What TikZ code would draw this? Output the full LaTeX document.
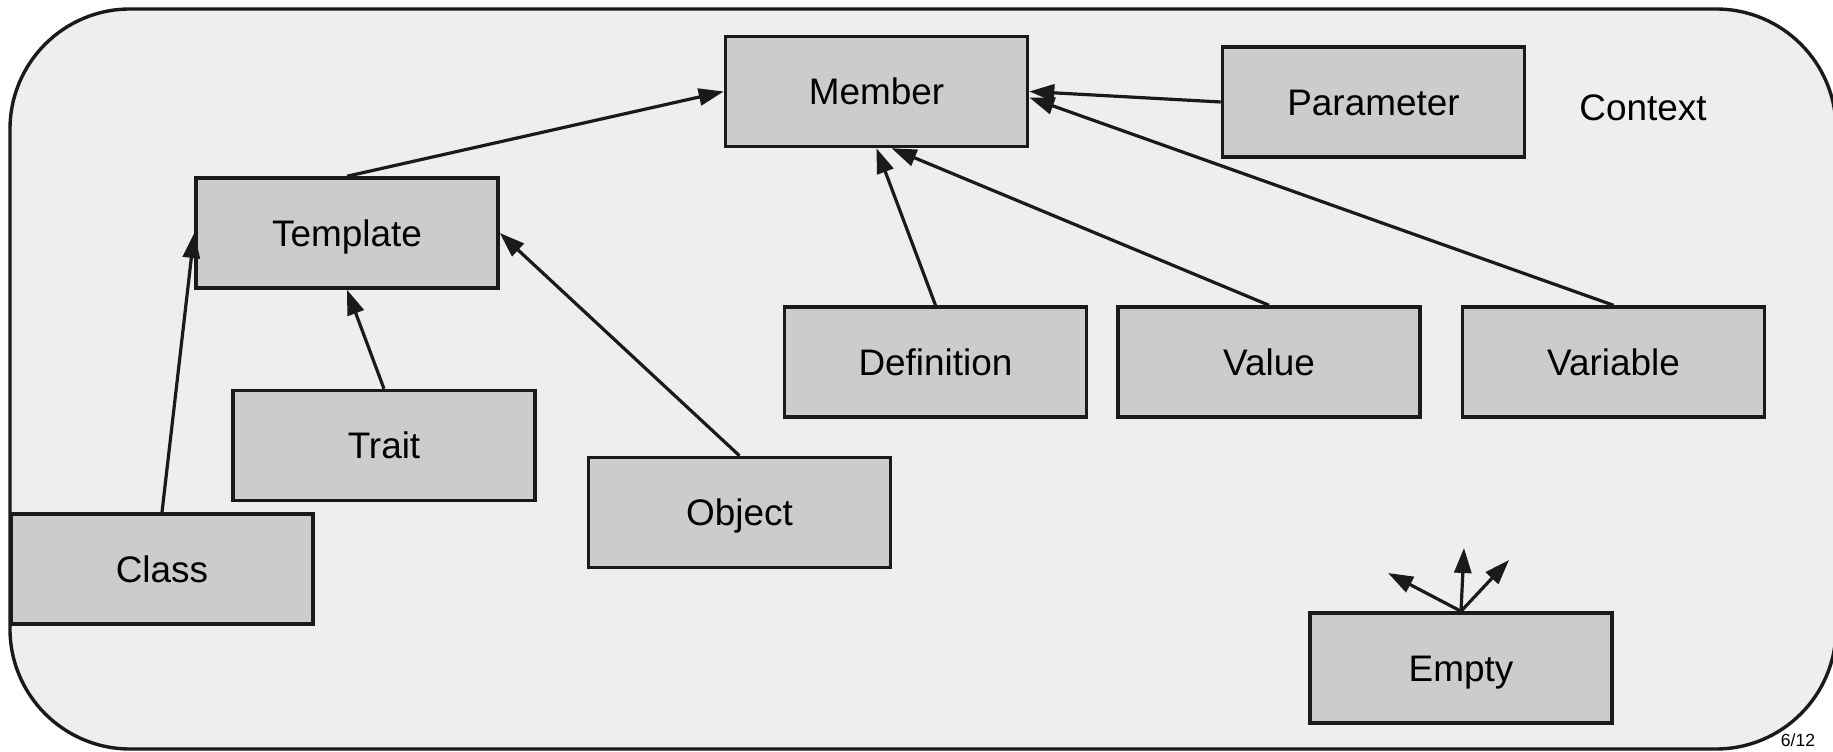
\documentclass[tikz,border=0pt]{standalone}
\usepackage{fontspec}
\setmainfont{Liberation Sans}
\usetikzlibrary{arrows.meta}
\definecolor{bgfill}{HTML}{EEEEEE}
\definecolor{boxfill}{HTML}{CCCCCC}
\definecolor{ink}{HTML}{1A1A1A}
\begin{document}
\begin{tikzpicture}[x=0.01cm,y=-0.01cm,
  cls/.style={draw=ink, fill=boxfill, line width=0.034cm, minimum width=3.02cm, minimum height=1.10cm, inner sep=0pt, text height=0.265cm, text depth=0pt, font=\fontsize{10.5pt}{12pt}\selectfont, text=black},
  inh/.style={draw=ink, line width=0.032cm, -{Triangle[length=0.25cm,width=0.17cm]}},
]
\useasboundingbox (0,0) rectangle (1833,752);
\begin{scope}
\clip (0,0) rectangle (1833,752);
\draw[ink, fill=bgfill, line width=0.034cm, rounded corners=1.2cm] (10,9) rectangle (1836,749);
\end{scope}
\node[cls] (member) at (876.5,91.5) {Member};
\node[cls] (parameter) at (1373.5,102) {Parameter};
\node[cls] (template) at (347,233) {Template};
\node[cls] (trait) at (384,445.5) {Trait};
\node[cls] (class) at (162,569) {Class};
\node[cls] (object) at (739.5,512.5) {Object};
\node[cls] (definition) at (935.5,362) {Definition};
\node[cls] (value) at (1269,362) {Value};
\node[cls] (variable) at (1613.5,362) {Variable};
\node[cls] (empty) at (1461,668) {Empty};
\node[font=\fontsize{10.5pt}{12pt}\selectfont, text height=0.265cm, text depth=0pt] (context) at (1643,107) {Context};
\node[font=\fontsize{5pt}{6pt}\selectfont] (page) at (1798,740) {6/12};
\coordinate (e1) at (1388,573);
\coordinate (e2) at (1464,548);
\coordinate (e3) at (1509,560);
\draw[inh] (template.north) -- (member.west);
\draw[inh] (parameter.west) -- (member.east);
\draw[inh] (variable.north) -- ([yshift=-0.06cm]member.east);
\draw[inh] (definition.north) -- (member.south);
\draw[inh] (value.north) -- ([xshift=0.15cm]member.south);
\draw[inh] (trait.north) -- (template.south);
\draw[inh] (class.north) -- (template.west);
\draw[inh] (object.north) -- (template.east);
\draw[inh] (empty.north) -- (e1);
\draw[inh] (empty.north) -- (e2);
\draw[inh] (empty.north) -- (e3);
\end{tikzpicture}
\end{document}
